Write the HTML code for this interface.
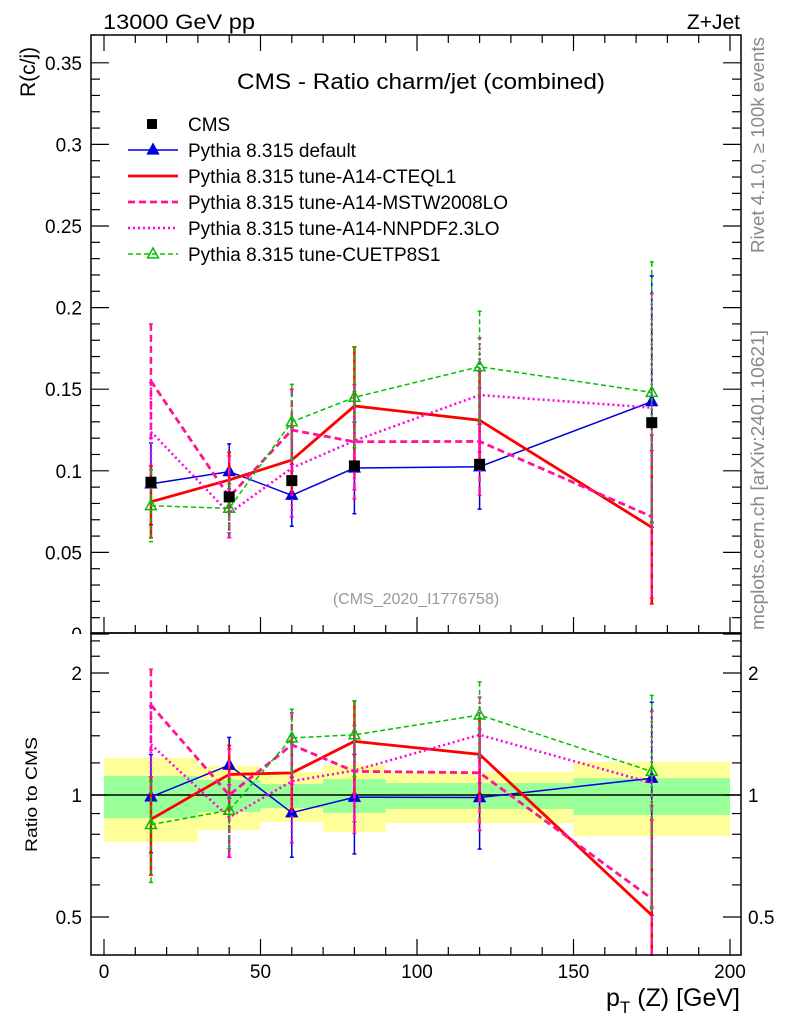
<!DOCTYPE html>
<html><head><meta charset="utf-8">
<style>
body{margin:0;background:#fff;}
svg{display:block;font-family:"Liberation Sans",sans-serif;}
</style></head>
<body>
<svg id="chart" width="786" height="1024" viewBox="0 0 786 1024" xmlns="http://www.w3.org/2000/svg">
<rect width="786" height="1024" fill="#fff"/>
<g id="bands"></g>
<g id="grid"></g>
<g id="series"></g>
<rect x="40" y="634" width="50" height="14" fill="#fff"/>
<rect x="91" y="35" width="650" height="598" fill="none" stroke="#000" stroke-width="1.5"/>
<rect x="91" y="633" width="650" height="322" fill="none" stroke="#000" stroke-width="1.5"/>
<text x="103" y="29" font-size="21" textLength="152" lengthAdjust="spacingAndGlyphs">13000 GeV pp</text>
<text x="740" y="29" font-size="21" text-anchor="end">Z+Jet</text>
<text x="237" y="89" font-size="22" textLength="368" lengthAdjust="spacingAndGlyphs">CMS - Ratio charm/jet (combined)</text>
<text x="416" y="604" font-size="16" fill="#999" text-anchor="middle">(CMS_2020_I1776758)</text>
<text transform="translate(35,97) rotate(-90)" font-size="21">R(c/j)</text>
<text transform="translate(37,852) rotate(-90)" font-size="17" textLength="115" lengthAdjust="spacingAndGlyphs">Ratio to CMS</text>
<text transform="translate(764,253) rotate(-90)" font-size="18" fill="#888" textLength="216" lengthAdjust="spacingAndGlyphs">Rivet 4.1.0, ≥ 100k events</text>
<text transform="translate(764,630) rotate(-90)" font-size="18" fill="#888" textLength="300" lengthAdjust="spacingAndGlyphs">mcplots.cern.ch [arXiv:2401.10621]</text>
<text x="740" y="1006" font-size="25" text-anchor="end">p<tspan font-size="17" dy="7">T</tspan><tspan dy="-7"> (Z) [GeV]</tspan></text>
<g id="legend"></g>
</svg>
<script>
const xCenters=[15,40,60,80,120,175];
const binEdges=[0,30,50,70,90,150,200];
const cmsValues=[0.093,0.084,0.094,0.103,0.104,0.1295];
const yellowUp=[1.234,1.179,1.14,1.186,1.14,1.206];
const yellowDn=[0.766,0.82,0.858,0.81,0.853,0.792];
const greenUp=[1.114,1.089,1.064,1.095,1.07,1.10];
const greenDn=[0.877,0.908,0.929,0.903,0.924,0.893];
const defaultVals=[0.092,0.0995,0.085,0.1017,0.1025,0.1424];
const defaultErr=[0.025,0.017,0.019,0.028,0.026,0.077];
const cteqVals=[0.081,0.0944,0.1066,0.1397,0.131,0.0654];
const cteqErr=[0.022,0.017,0.02,0.036,0.03,0.047];
const mstwVals=[0.155,0.084,0.125,0.1178,0.118,0.0719];
const mstwErr=[0.035,0.025,0.025,0.035,0.033,0.05];
const nnpdfVals=[0.124,0.074,0.1017,0.1184,0.1464,0.1387];
const nnpdfErr=[0.03,0.015,0.03,0.03,0.035,0.07];
const cuetVals=[0.0786,0.077,0.130,0.145,0.1638,0.148];
const cuetErr=[0.022,0.015,0.023,0.031,0.034,0.08];
const mainTicks=[0,0.05,0.1,0.15,0.2,0.25,0.3,0.35];
const mainTickLabels=["0","0.05","0.1","0.15","0.2","0.25","0.3","0.35"];
const ratioTicks=[0.5,1,2];
const ratioTickLabels=["0.5","1","2"];
const xTicks=[0,50,100,150,200];
const xTickLabels=["0","50","100","150","200"];

const NS="http://www.w3.org/2000/svg";
const X=v=>104+v*(626/200);
const Y=v=>634-v*1632;
const R=v=>795-122*Math.log2(v);
function mk(tag,attrs,parent){const e=document.createElementNS(NS,tag);for(const k in attrs)e.setAttribute(k,attrs[k]);parent.appendChild(e);return e;}
const bands=document.getElementById('bands'),grid=document.getElementById('grid'),ser=document.getElementById('series'),leg=document.getElementById('legend');

for(let i=0;i<xCenters.length;i++){
 const x0=X(binEdges[i]),x1=X(binEdges[i+1]);
 let r=mk('rect',{x:x0,y:R(yellowUp[i]),width:x1-x0,height:R(yellowDn[i])-R(yellowUp[i]),fill:'#ffff99'},bands);
 
 
 r=mk('rect',{x:x0,y:R(greenUp[i]),width:x1-x0,height:R(greenDn[i])-R(greenUp[i]),fill:'#99ff99'},bands);
 
 
}
let one=mk('line',{x1:91,x2:741,y1:R(1),y2:R(1),stroke:'#000','stroke-width':1.5},bands);



function tick(x1,y1,x2,y2){const l=mk('line',{x1,y1,x2,y2,stroke:'#000','stroke-width':1.2},grid);}
function label(x,y,t,anchor,size,name){const e=mk('text',{x,y,'font-size':size,'text-anchor':anchor},grid);e.textContent=t;}
for(let v=0;v<=0.36;v+=0.01){const y=Y(v);if(y<35)break;const maj=Math.abs(v/0.05-Math.round(v/0.05))<1e-6;const L=maj?18:9;tick(91,y,91+L,y);tick(741,y,741-L,y);}
mainTicks.forEach((v,i)=>label(82,Y(v)+7,mainTickLabels[i],'end',19,'y-tick-label'));
for(let v=0;v<=200;v+=10){const x=X(v);const maj=v%50===0;const L=maj?16:8;tick(x,633,x,633-L);tick(x,955,x,955-L);tick(x,35,x,35+L);}
xTickLabels.forEach((t,i)=>label(X(xTicks[i]),978,t,'middle',19,'x-tick-label'));
[0.4,0.5,0.6,0.7,0.8,0.9,1,1.2,1.4,1.6,1.8,2,2.2,2.4].forEach(v=>{const y=R(v);if(y<634||y>954)return;const maj=(v===0.5||v===1||v===2);const L=maj?18:9;tick(91,y,91+L,y);tick(741,y,741-L,y);});
ratioTicks.forEach((v,i)=>{label(82,R(v)+7,ratioTickLabels[i],'end',19,'ratio-tick-label');label(748,R(v)+7,ratioTickLabels[i],'start',19,'ratio-tick-label');});

const seriesDefs=[
 {name:'pythia-default',vals:defaultVals,err:defaultErr,color:'#0000dd',w:1.5,dash:'',marker:'tri-fill',label:'Pythia 8.315 default'},
 {name:'pythia-cteql1',vals:cteqVals,err:cteqErr,color:'#ff0000',w:2.8,dash:'',marker:'none',label:'Pythia 8.315 tune-A14-CTEQL1'},
 {name:'pythia-mstw2008lo',vals:mstwVals,err:mstwErr,color:'#ff1493',w:2.8,dash:'7,4',marker:'none',label:'Pythia 8.315 tune-A14-MSTW2008LO'},
 {name:'pythia-nnpdf23lo',vals:nnpdfVals,err:nnpdfErr,color:'#ff00dd',w:2.5,dash:'2,3',marker:'none',label:'Pythia 8.315 tune-A14-NNPDF2.3LO'},
 {name:'pythia-cuetp8s1',vals:cuetVals,err:cuetErr,color:'#00c000',w:1.5,dash:'5,3',marker:'tri-open',label:'Pythia 8.315 tune-CUETP8S1'}
];
function tri(g,x,y,s,color,fill){const p=mk('polygon',{points:`${x},${y-s} ${x-s*0.9},${y+s*0.65} ${x+s*0.9},${y+s*0.65}`,fill:fill?color:'none',stroke:color,'stroke-width':1.5},g);return p;}
seriesDefs.forEach(s=>{
 const g=mk('g',{},ser);
 
 
 [[Y,1],[R,0]].forEach(([ax,isMain])=>{
  const vs=s.vals.map((v,i)=>isMain?v:v/cmsValues[i]);
  const es=s.err.map((e,i)=>isMain?e:e/cmsValues[i]);
  const clip=(y)=>isMain?Math.max(35,Math.min(633,y)):Math.max(633,Math.min(955,y));
  vs.forEach((v,i)=>{const x=X(xCenters[i]);const y1=clip(ax(v+es[i])),y2=clip(ax(Math.max(v-es[i],0.01)));
   const eb=mk('line',{x1:x,x2:x,y1,y2,stroke:s.color,'stroke-width':s.w>2?2.5:1.5,'stroke-dasharray':s.dash},g);
   
   
   [y1,y2].forEach(yy=>{const c=mk('line',{x1:x-2,x2:x+2,y1:yy,y2:yy,stroke:s.color,'stroke-width':1.5},g);});
  });
  const pts=vs.map((v,i)=>X(xCenters[i])+','+clip(ax(v))).join(' ');
  const pl=mk('polyline',{points:pts,fill:'none',stroke:s.color,'stroke-width':s.w,'stroke-dasharray':s.dash},g);
  
  
  if(s.marker!=='none')vs.forEach((v,i)=>{const m=tri(g,X(xCenters[i]),ax(v),6,s.color,s.marker==='tri-fill');});
 });
});
cmsValues.forEach((v,i)=>{const r=mk('rect',{x:X(xCenters[i])-5.5,y:Y(v)-5.5,width:11,height:11,fill:'#000'},ser);
 
 });

const ly0=124;
let lg=mk('rect',{x:147,y:ly0-5,width:10,height:10,fill:'#000'},leg);


let lt=mk('text',{x:188,y:ly0+7,'font-size':19},leg);lt.textContent='CMS';


seriesDefs.forEach((s,i)=>{const y=ly0+26*(i+1);
 const l=mk('line',{x1:128,x2:178,y1:y,y2:y,stroke:s.color,'stroke-width':s.w,'stroke-dasharray':s.dash},leg);
 
 
 if(s.marker!=='none'){const m=tri(leg,153,y,6,s.color,s.marker==='tri-fill');}
 const t=mk('text',{x:188,y:y+7,'font-size':19},leg);t.textContent=s.label;
 
 
});
</script>
</body></html>
